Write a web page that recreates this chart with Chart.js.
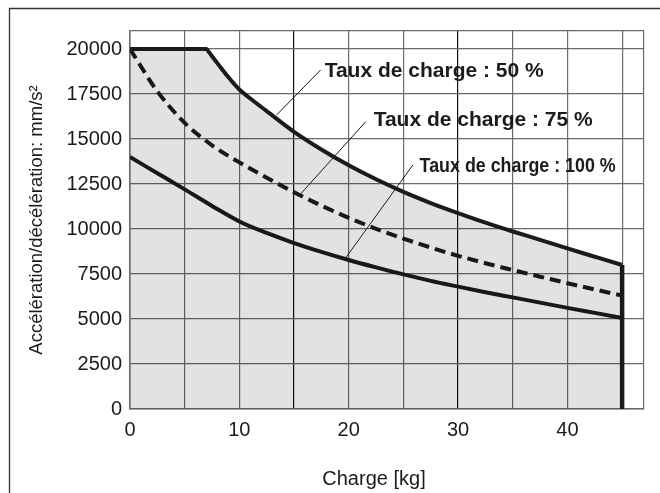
<!DOCTYPE html>
<html>
<head>
<meta charset="utf-8">
<script src="https://cdn.jsdelivr.net/npm/chart.js@4"></script>
<style>
  body { margin: 0; background: #fff; }
  #wrap { width: 660px; height: 493px; position: relative; }
</style>
</head>
<body>
<div id="wrap"><canvas id="chart"></canvas></div>
<script>
// values (charge in kg, acceleration in mm/s²)
const charge50 = [0, 7, 7.2, 8, 9, 10, 11, 12.5, 15, 17.5, 20, 22.5, 25, 27.5, 30, 32.5, 35, 37.5, 40, 42.5, 45]
const accel50 = [20000, 20000, 19840, 19200, 18430, 17750, 17250, 16550, 15400, 14420, 13540, 12760, 12060, 11440, 10880, 10350, 9860, 9400, 8920, 8460, 8000]

const charge = [0, 2.5, 5, 7.5, 10, 12.5, 15, 17.5, 20, 22.5, 25, 27.5, 30, 32.5, 35, 37.5, 40, 42.5, 45]
const accel75 = [20000, 17650, 15900, 14650, 13700, 12850, 12040, 11300, 10620, 10010, 9470, 8970, 8510, 8100, 7720, 7350, 6990, 6640, 6300]
const accel100 = [14000, 13100, 12200, 11280, 10420, 9780, 9220, 8730, 8280, 7870, 7480, 7120, 6800, 6490, 6200, 5910, 5620, 5340, 5060]

// end of range (vertical limit line)
const limitCharge = [45, 45]
const limitAccel = [0, 8000]

const xTicks = [0, 5, 10, 15, 20, 25, 30, 35, 40, 45, 47]
const yTicks = [0, 2500, 5000, 7500, 10000, 12500, 15000, 17500, 20000, 21000]

const labels = ["Taux de charge : 50 %", "Taux de charge : 75 %", "Taux de charge : 100 %"]
// label anchor [x, y] and leader line [fromX, fromY, toX, toY], in data units
const labelPos = [[17.8, 18440], [22.28, 15720], [26.48, 13180]]
const leaders = [[17.42, 18830, 13.4, 16330], [21.55, 15960, 15.37, 11790], [25.87, 13560, 19.63, 8320]]

const FONT = "'Liberation Sans', Arial, Helvetica, sans-serif"
const INK = "#1c1a1b"
const SHADE = "rgba(0,0,20,0.115)"

const pts = (xs, ys) => xs.map((x, i) => ({x: x, y: ys[i]}))

const decor = {
    id: "decor",
    beforeDraw(chart) {
        const c = chart.ctx
        c.save()
        c.strokeStyle = "#333"
        c.lineWidth = 1.3
        c.beginPath()
        c.moveTo(9.5, 493)
        c.lineTo(9.5, 8.5)
        c.lineTo(660, 8.5)
        c.stroke()
        c.restore()
    },
    afterDatasetsDraw(chart) {
        const c = chart.ctx
        const xs = chart.scales.x, ys = chart.scales.y
        c.save()
        // leader lines
        c.strokeStyle = INK
        c.lineWidth = 1
        leaders.forEach(l => {
            c.beginPath()
            c.moveTo(xs.getPixelForValue(l[0]), ys.getPixelForValue(l[1]))
            c.lineTo(xs.getPixelForValue(l[2]), ys.getPixelForValue(l[3]))
            c.stroke()
        })
        // labels
        c.fillStyle = INK
        c.textBaseline = "alphabetic"
        c.textAlign = "left"
        c.font = "bold 21px " + FONT
        labels.forEach((t, i) => {
            const px = xs.getPixelForValue(labelPos[i][0])
            const py = ys.getPixelForValue(labelPos[i][1])
            c.save()
            c.translate(px, py)
            if (i === 2) c.scale(0.85, 1)
            c.fillText(t, 0, 0)
            c.restore()
        })
        // x axis title
        c.font = "20px " + FONT
        c.textAlign = "center"
        c.fillText("Charge [kg]", 374, 485)
        c.restore()
    }
}

const line = (data, extra) => Object.assign({
    data: data,
    borderColor: INK,
    borderWidth: 4,
    fill: false,
    pointRadius: 0,
    cubicInterpolationMode: "monotone"
}, extra)

new Chart(document.getElementById("chart"), {
    type: "line",
    data: {
        datasets: [
            line(pts(charge50, accel50), { label: labels[0], fill: "origin", backgroundColor: SHADE }),
            line(pts(charge, accel75), { label: labels[1], borderDash: [11, 6] }),
            line(pts(charge, accel100), { label: labels[2] }),
            line(pts(limitCharge, limitAccel), { label: "limit", borderWidth: 4.5, tension: 0 })
        ]
    },
    options: {
        responsive: true,
        maintainAspectRatio: false,
        animation: false,
        layout: { padding: { left: 0, right: 16, top: 31, bottom: 0 } },
        plugins: { legend: { display: false }, tooltip: { enabled: false } },
        scales: {
            x: {
                type: "linear",
                min: 0,
                max: 47,
                afterBuildTicks: s => { s.ticks = xTicks.map(v => ({value: v})) },
                afterFit: s => { s.height = 84 },
                ticks: {
                    autoSkip: false,
                    maxRotation: 0,
                    padding: 9,
                    color: INK,
                    font: { family: FONT, size: 20 },
                    callback: v => (v % 10 === 0 ? v : "")
                },
                grid: {
                    drawTicks: false,
                    lineWidth: 1.2,
                    color: ctx => (ctx.tick && (ctx.tick.value === 15 || ctx.tick.value === 30) ? "#111" : "#6a6a6a")
                },
                border: { color: "#6a6a6a", width: 1.5 }
            },
            y: {
                type: "linear",
                min: 0,
                max: 21000,
                afterBuildTicks: s => { s.ticks = yTicks.map(v => ({value: v})) },
                afterFit: s => { s.width = 130 },
                ticks: {
                    padding: 8,
                    color: INK,
                    font: { family: FONT, size: 20 },
                    callback: v => (v % 2500 === 0 ? v : "")
                },
                grid: { drawTicks: false, lineWidth: 1.2, color: "#6a6a6a" },
                border: { color: "#6a6a6a", width: 1.5 },
                title: {
                    display: true,
                    text: "Accélération/décélération: mm/s²",
                    color: INK,
                    font: { family: FONT, size: 18.5 },
                    padding: { top: 26, bottom: 0 }
                }
            }
        }
    },
    plugins: [decor]
})
</script>
</body>
</html>
